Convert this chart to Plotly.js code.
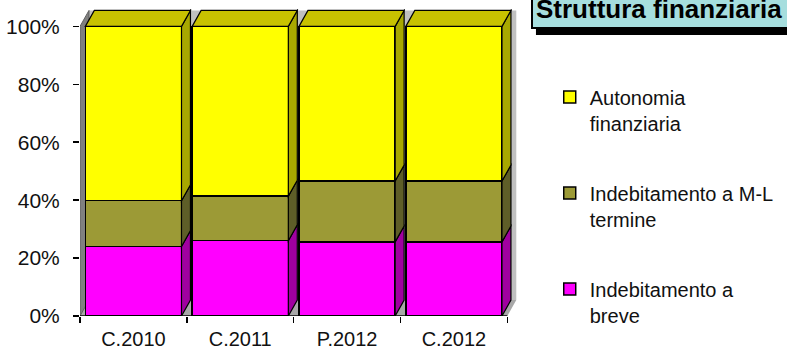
<!DOCTYPE html>
<html>
<head>
<meta charset="utf-8">
<script src="https://cdn.plot.ly/plotly-3.0.1.min.js"></script>
<style>html,body{margin:0;padding:0;background:#fff;}#chart{width:787px;height:349px;}</style>
</head>
<body>
<div id="chart"></div>
<script>
// ---- data ----
var categories = ['C.2010', 'C.2011', 'P.2012', 'C.2012'];
var breve = [24.0, 26.0, 25.6, 25.6];
var medioLungo = [15.8, 15.4, 21.0, 21.0];
var autonomia = [60.2, 58.6, 53.4, 53.4];
var seriesNames = ['Indebitamento a<br>breve', 'Indebitamento a M-L<br>termine', 'Autonomia<br>finanziaria'];
var legendRanks = [3, 2, 1];
var yTicks = [0, 20, 40, 60, 80, 100];
var titleText = 'Struttura finanziaria';

// ---- styling ----
var frontColors = ['#ff00ff', '#9c9a36', '#ffff00'];
var sideColors = ['#a000a0', '#5e5e28', '#a8a800'];
var topColor = '#c8c200';
var barWidth = 0.9;
var dx = 0.084;   // depth offset in category units
var dy = 5.5;     // depth offset in percent units
var font = 'Liberation Sans, Arial, sans-serif';

var seriesVals = [breve, medioLungo, autonomia];
var traces = seriesVals.map(function (vals, k) {
  return {
    type: 'bar', x: categories, y: vals, name: seriesNames[k],
    legendgroup: 'g' + k, legendrank: legendRanks[k], width: barWidth,
    marker: {color: frontColors[k], line: {color: '#000', width: 1.5}},
    hoverinfo: 'skip'
  };
});

function pt(x, y) { return (+x.toFixed(4)) + ',' + (+y.toFixed(4)); }

var shapes = [];
var n = categories.length;
// back wall, floor, left wall
shapes.push({type: 'rect', xref: 'x', yref: 'y', x0: -0.5 + dx, x1: n - 0.5 + dx, y0: dy, y1: 100 + dy,
  fillcolor: '#c0c0c0', line: {width: 0}, layer: 'below'});
shapes.push({type: 'path', xref: 'x', yref: 'y', layer: 'below',
  path: 'M' + pt(-0.5, 0) + ' L' + pt(n - 0.5, 0) + ' L' + pt(n - 0.5 + dx, dy) + ' L' + pt(-0.5 + dx, dy) + ' Z',
  fillcolor: '#a8a8a8', line: {width: 0}});
shapes.push({type: 'path', xref: 'x', yref: 'y', layer: 'below',
  path: 'M' + pt(-0.5, 0) + ' L' + pt(-0.5 + dx, dy) + ' L' + pt(-0.5 + dx, 100 + dy) + ' L' + pt(-0.5, 100) + ' Z',
  fillcolor: '#808080', line: {color: '#606060', width: 1}});

for (var i = 0; i < n; i++) {
  var base = 0;
  var xr = i + barWidth / 2, xl = i - barWidth / 2;
  for (var k = 0; k < seriesVals.length; k++) {
    var segTop = base + seriesVals[k][i];
    shapes.push({type: 'path', xref: 'x', yref: 'y',
      path: 'M' + pt(xr, base) + ' L' + pt(xr + dx, base + dy) + ' L' + pt(xr + dx, segTop + dy) + ' L' + pt(xr, segTop) + ' Z',
      fillcolor: sideColors[k], line: {color: '#000', width: 1.2}});
    base = segTop;
  }
  shapes.push({type: 'path', xref: 'x', yref: 'y',
    path: 'M' + pt(xl, base) + ' L' + pt(xl + dx, base + dy) + ' L' + pt(xr + dx, base + dy) + ' L' + pt(xr, base) + ' Z',
    fillcolor: topColor, line: {color: '#000', width: 1.2}});
}
// x axis baseline
shapes.push({type: 'line', xref: 'x', yref: 'y', x0: -0.5, x1: n - 0.5, y0: 0, y1: 0,
  line: {color: '#000', width: 1.5}});
// title shadow
shapes.push({type: 'rect', xref: 'paper', yref: 'paper', x0: 1.041, x1: 1.7, y0: 0.915, y1: 1.1,
  fillcolor: '#000', line: {width: 0}});

var layout = {
  width: 787, height: 349,
  margin: {l: 80, r: 268, t: 9, b: 33, pad: 0},
  paper_bgcolor: '#fff', plot_bgcolor: 'rgba(0,0,0,0)',
  barmode: 'stack', bargap: 0.1,
  font: {family: font, size: 20, color: '#111'},
  showlegend: true,
  legend: {x: 1.07, xanchor: 'left', y: 0.777, yanchor: 'top', traceorder: 'grouped',
    valign: 'top', tracegroupgap: 41, font: {family: font, size: 20, color: '#111'},
    bgcolor: 'rgba(0,0,0,0)'},
  xaxis: {type: 'category', range: [-0.5, n - 0.5 + 0.1], showgrid: false, zeroline: false,
    showline: false, ticks: 'outside', ticklen: 6, tickcolor: '#000', tickwidth: 1.5,
    tickson: 'boundaries', ticklabelstandoff: 9,
    tickfont: {family: font, size: 20, color: '#111'}, fixedrange: true},
  yaxis: {range: [0, 106], tickvals: yTicks, ticktext: yTicks.map(function (v) { return v + '%'; }),
    showgrid: false, zeroline: false, showline: false, ticks: 'outside', ticklen: 6,
    ticklabelstandoff: 9,
    tickcolor: '#000', tickwidth: 1.5, tickfont: {family: font, size: 21, color: '#111'}, fixedrange: true},
  shapes: shapes,
  annotations: [
    {xref: 'paper', yref: 'paper', x: 1.0296, y: 0.935, xanchor: 'left', yanchor: 'bottom',
      text: '<b>' + titleText + '</b>', showarrow: false, align: 'left', width: 300,
      font: {family: font, size: 26, color: '#000'},
      bgcolor: '#a6dede', bordercolor: '#000', borderwidth: 2, borderpad: 3}
  ]
};

Plotly.newPlot('chart', traces, layout, {staticPlot: true, displayModeBar: false});
</script>
</body>
</html>
